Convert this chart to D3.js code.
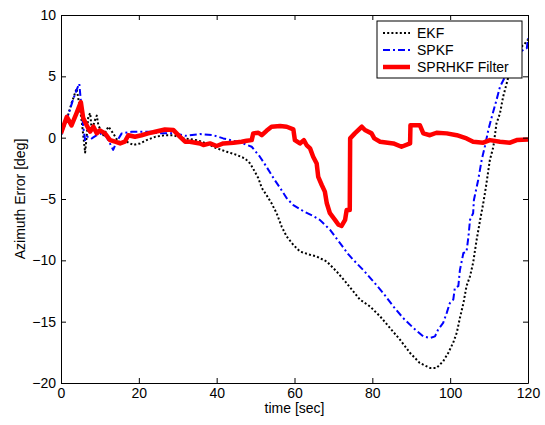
<!DOCTYPE html>
<html>
<head>
<meta charset="utf-8">
<script src="https://cdn.jsdelivr.net/npm/d3@7"></script>
<style>
  html, body { margin: 0; padding: 0; background: #fff; }
  svg { display: block; }
  text { font-family: "Liberation Sans", Arial, sans-serif; fill: #000; }
</style>
</head>
<body>
<svg id="chart" width="545" height="425"></svg>
<script>
// ---- data (time in sec, azimuth error in deg) ----
const xTicks = [0, 20, 40, 60, 80, 100, 120];
const yTicks = [-20, -15, -10, -5, 0, 5, 10];
const seriesNames = ["EKF", "SPKF", "SPRHKF Filter"];

const ekf = [[0,0.2],[1.5,1.5],[2.7,2.8],[4.0,4.0],[4.4,3.3],[5.3,1.4],[6.2,-1.2],[6.6,0.1],[7.0,1.7],[7.5,2.0],
  [7.9,0.6],[8.7,1.4],[9.2,1.8],[9.6,1.0],[10.9,0.2],[12.2,0.9],[13.4,0.35],[14.7,-0.33],[16.9,-0.33],[18.6,-0.6],
  [20.3,-0.47],[22.0,-0.2],[24.2,0.07],[26.7,0.2],[28.9,0.2],[31.4,-0.06],[34.9,-0.2],[37.4,-0.47],[40.0,-0.87],[42.6,-1.15],
  [45.1,-1.4],[47.3,-1.7],[48.6,-2.1],[49.8,-2.77],[50.7,-3.3],[51.6,-4.1],[52.8,-4.67],[54.1,-5.35],[55.4,-6.16],[56.7,-7.25],
  [58.0,-8.06],[59.7,-8.74],[61.4,-9.28],[64.0,-9.55],[65.7,-9.69],[68.3,-10.1],[70.8,-10.9],[73.4,-11.86],[76.8,-13.2],[79.4,-13.76],
  [82.0,-14.57],[84.5,-15.5],[87.1,-16.47],[89.7,-17.55],[92.2,-18.37],[94.8,-18.77],[96.5,-18.77],[98.2,-18.23],[99.5,-17.55],[100.8,-16.7],
  [101.7,-15.9],[102.5,-14.7],[103.4,-13.5],[104.2,-12.1],[105.1,-11.3],[105.9,-10.2],[106.8,-8.33],[107.7,-6.7],[108.5,-5.35],[109.2,-4.0],
  [110.2,-1.82],[111.1,-0.74],[111.9,1.16],[112.8,1.98],[113.6,3.33],[114.5,4.4],[115.4,5.5],[116.2,6.86],[117.5,7.2],[119.0,7.6],[120,8.0]];

const spkf = [[0,0.2],[1.5,1.5],[3.0,3.0],[4.0,3.9],[4.7,4.4],[5.3,2.3],[5.7,0.9],[6.2,-0.2],[6.6,0.07],[7.4,0.07],
  [7.9,-0.06],[9.2,0.2],[10.5,0.35],[11.7,0.07],[13.0,-0.74],[13.4,-1.0],[14.3,-0.33],[15.6,0.35],[18.2,0.48],[20.7,0.48],
  [23.3,0.48],[25,0.35],[26.7,0.35],[29.3,0.35],[31.9,0.15],[35.7,0.3],[39.1,0.2],[41.7,-0.06],[44.3,-0.25],[46.8,-0.47],
  [49,-0.74],[51.1,-1.55],[52.8,-2.37],[54.6,-3.3],[56.3,-4.1],[58,-4.94],[59.7,-5.5],[62.3,-6.0],[64.8,-6.38],[66.5,-6.7],
  [69.1,-7.5],[71.7,-8.6],[73.8,-9.5],[75.1,-9.96],[77.7,-10.8],[80.2,-11.7],[82.8,-12.67],[85.4,-13.76],[87.9,-14.7],[90.5,-15.5],
  [93.1,-16.2],[94.8,-16.33],[96.1,-16.2],[96.9,-15.65],[98.2,-15.1],[99.1,-14.3],[99.9,-13.5],[100.8,-13.2],[101.2,-12.26],[102.1,-12.1],
  [102.5,-10.8],[103.4,-9.4],[104.2,-9.3],[104.7,-8.06],[105.1,-6.7],[105.9,-6.16],[106.1,-5.08],[107.2,-3.45],[108.1,-1.82],[108.9,-0.74],
  [109.8,0.62],[110.7,1.7],[111.9,3.06],[112.8,4.14],[114.1,4.96],[115.5,6.0],[117.9,7.0],[119.7,7.3],[120,8.1]];

const sprhkf = [[0,0.35],[1.5,1.7],[2.7,1.0],[4.0,2.0],[5.1,2.9],[5.7,1.6],[6.6,1.0],[7.5,0.5],[8.3,0.9],[9.2,0.35],
  [10,0.6],[11.3,0.35],[12.6,-0.2],[13.9,-0.33],[15.2,-0.47],[16.4,-0.33],[17.3,0.2],[19,0.07],[20.7,0.2],[22.4,0.35],
  [24.2,0.48],[26.7,0.67],[28.9,0.62],[30.6,0.07],[31.9,-0.33],[33.1,-0.33],[35.7,-0.47],[36.6,-0.6],[38.3,-0.47],[40,-0.68],
  [41.7,-0.47],[44.3,-0.41],[46.4,-0.33],[47.7,-0.25],[49,-0.2],[49.4,0.35],[50.7,0.4],[51.6,0.2],[52.8,0.56],[54.1,0.89],
  [56.3,0.95],[58,0.89],[59.7,0.67],[60.1,-0.2],[61.4,-0.47],[62.4,-0.2],[63.1,-0.6],[64,-0.87],[64.8,-1.55],[65.7,-2.1],
  [66.1,-3.2],[67,-3.86],[67.8,-4.4],[68.3,-5.35],[69.1,-6.16],[70.4,-6.7],[71.3,-7.1],[72.1,-7.2],[73,-6.7],[73.4,-5.9],
  [74.2,-5.9],[74.3,-0.06],[75.5,0.35],[77.3,0.89],[78.1,0.62],[79.8,0.35],[80.5,-0.06],[82,-0.33],[85.4,-0.47],[87.5,-0.74],
  [89.7,-0.47],[89.8,1.02],[92.2,1.02],[93.1,0.35],[94.8,0.2],[96.5,0.4],[99.1,0.35],[101.7,0.2],[104.2,-0.06],[105.9,-0.33],
  [108.5,-0.41],[110.2,-0.2],[112.8,-0.33],[115.4,-0.41],[117.1,-0.2],[120,-0.14]];

// ---- layout ----
const svg = d3.select("#chart");
const L = 61, R = 528, T = 15, B = 383;
const x = d3.scaleLinear().domain([0, 120]).range([L, R]);
const y = d3.scaleLinear().domain([-20, 10]).range([B, T]);

svg.append("rect").attr("width", 545).attr("height", 425).attr("fill", "#fff");

svg.append("defs").append("clipPath").attr("id", "clip")
  .append("rect").attr("x", L).attr("y", T).attr("width", R - L).attr("height", B - T);

const line = d3.line().x(d => x(d[0])).y(d => y(d[1]));

const styles = [
  { data: ekf, color: "#000", width: 2, dash: "2,2.2" },
  { data: spkf, color: "#0000ff", width: 2, dash: "7,3,2,3" },
  { data: sprhkf, color: "#ff0000", width: 4.5, dash: null }
];

const g = svg.append("g").attr("clip-path", "url(#clip)");
styles.forEach(s => {
  g.append("path").datum(s.data)
    .attr("d", line)
    .attr("fill", "none")
    .attr("stroke", s.color)
    .attr("stroke-width", s.width)
    .attr("stroke-linejoin", "round")
    .attr("stroke-dasharray", s.dash);
});

// ---- axes (MATLAB-style box with inward ticks) ----
const fs = 14;
const axB = svg.append("g").attr("transform", `translate(0,${B})`)
  .call(d3.axisBottom(x).tickValues(xTicks).tickSizeInner(-5).tickSizeOuter(0).tickPadding(5));
const axT = svg.append("g").attr("transform", `translate(0,${T})`)
  .call(d3.axisTop(x).tickValues(xTicks).tickSizeInner(-5).tickSizeOuter(0).tickFormat(""));
const axL = svg.append("g").attr("transform", `translate(${L},0)`)
  .call(d3.axisLeft(y).tickValues(yTicks).tickSizeInner(-5).tickSizeOuter(0).tickPadding(5));
const axR = svg.append("g").attr("transform", `translate(${R},0)`)
  .call(d3.axisRight(y).tickValues(yTicks).tickSizeInner(-5).tickSizeOuter(0).tickFormat(""));

[axB, axT, axL, axR].forEach(a => {
  a.select(".domain").attr("stroke", "#000").attr("stroke-width", 1);
  a.selectAll(".tick line").attr("stroke", "#000").attr("stroke-width", 1);
  a.selectAll("text").style("font-size", fs + "px").style("font-family", '"Liberation Sans", Arial, sans-serif');
});

// axis labels
svg.append("text").attr("x", (L + R) / 2).attr("y", 413)
  .attr("text-anchor", "middle").style("font-size", "14px").text("time [sec]");
svg.append("text").attr("transform", `translate(25,${(T + B) / 2}) rotate(-90)`)
  .attr("text-anchor", "middle").style("font-size", "14px").text("Azimuth Error [deg]");

// ---- legend ----
const lg = svg.append("g");
lg.append("rect").attr("x", 377).attr("y", 21).attr("width", 145).attr("height", 57)
  .attr("fill", "#fff").attr("stroke", "#000").attr("stroke-width", 1);
const rowY = [33, 50, 67];
styles.forEach((s, i) => {
  lg.append("line").attr("x1", 383).attr("x2", 410).attr("y1", rowY[i]).attr("y2", rowY[i])
    .attr("stroke", s.color).attr("stroke-width", s.width).attr("stroke-dasharray", s.dash);
  lg.append("text").attr("x", 417).attr("y", rowY[i]).attr("dy", "0.35em")
    .style("font-size", "14px").text(seriesNames[i]);
});
</script>
</body>
</html>
